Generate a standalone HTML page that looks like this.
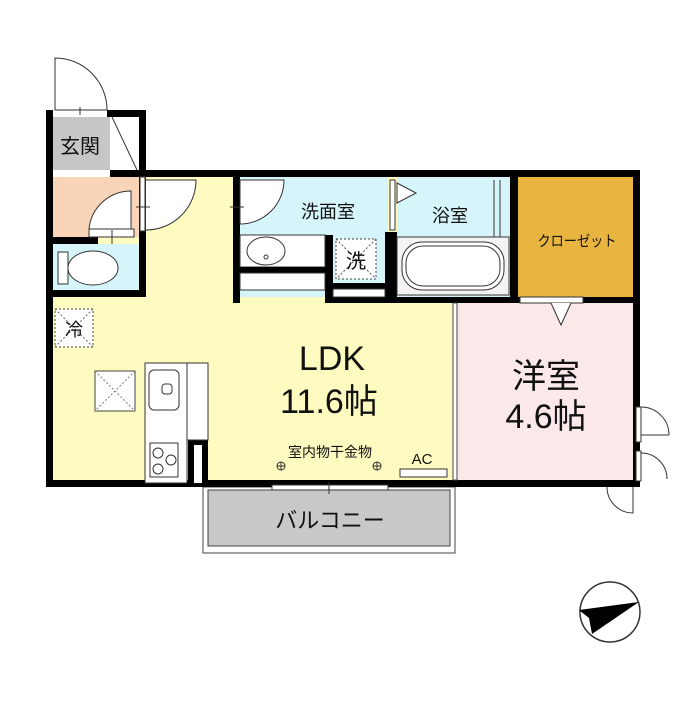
<!DOCTYPE html>
<html><head><meta charset="utf-8"><style>
body{margin:0;background:#fff;width:700px;height:700px;overflow:hidden}
svg text{font-family:"Liberation Sans","Noto Sans CJK JP",sans-serif;fill:#111}
</style></head><body>
<svg width="700" height="700" viewBox="0 0 700 700" xmlns="http://www.w3.org/2000/svg">
<!-- fills -->
<rect x="53" y="177" width="402" height="303" fill="#fdfbc0"/>
<rect x="53" y="117" width="57" height="53" fill="#c6c6c6"/>
<rect x="110" y="117" width="29" height="53" fill="#fff"/>
<rect x="53" y="177" width="86" height="60" fill="#f8d5b8"/>
<rect x="53" y="244" width="86" height="46" fill="#d6f5fb"/>
<rect x="240" y="177" width="148" height="120" fill="#d6f5fb"/>
<rect x="397" y="177" width="113" height="120" fill="#d6f5fb"/>
<rect x="518" y="177" width="115" height="120" fill="#e8b541"/>
<rect x="457" y="303" width="176" height="177" fill="#fbe9ea"/>
<!-- balcony -->
<rect x="203" y="487" width="252" height="66" fill="#fff" stroke="#444" stroke-width="1"/>
<rect x="208" y="490" width="242" height="56" fill="#c8c8c8" stroke="#444" stroke-width="1"/>
<!-- entrance door swing -->
<path d="M55 110 V58 A52 52 0 0 1 107 110 Z" fill="#fff" stroke="#333" stroke-width="1"/>
<line x1="80" y1="107" x2="80" y2="115" stroke="#333"/>
<line x1="112" y1="117" x2="137" y2="170" stroke="#333"/>
<!-- walls -->
<g fill="#000">
<rect x="46" y="110" width="7" height="377"/>
<rect x="46" y="110" width="7" height="7"/>
<rect x="107" y="110" width="39" height="7"/>
<rect x="139" y="110" width="7" height="67"/>
<rect x="53" y="170" width="587" height="7"/>
<rect x="633" y="170" width="7" height="317"/>
<rect x="46" y="480" width="594" height="7"/>
<rect x="53" y="237" width="45" height="7"/>
<rect x="139" y="177" width="7" height="120"/>
<rect x="53" y="290" width="93" height="7"/>
<rect x="233" y="177" width="7" height="126"/>
<rect x="325" y="235" width="8" height="68"/>
<rect x="333" y="283" width="57" height="6"/>
<rect x="385" y="232" width="12" height="71"/>
<rect x="510" y="177" width="8" height="126"/>
<rect x="333" y="297" width="307" height="6"/>
<rect x="633" y="297" width="7" height="6"/>
<rect x="188" y="440" width="20" height="45"/>
</g>
<!-- misc white wall bits -->
<rect x="53" y="170" width="57" height="7" fill="#fff"/>
<rect x="240" y="235" width="85" height="32" fill="#fff" stroke="#333" stroke-width="1"/>
<rect x="240" y="267" width="85" height="6" fill="#000"/>
<rect x="240" y="273" width="85" height="17" fill="#fff" stroke="#333" stroke-width="1"/>
<rect x="333" y="289" width="52" height="8" fill="#fff" stroke="#333" stroke-width="1"/>
<rect x="390" y="180" width="5" height="50" fill="#fff" stroke="#333" stroke-width="1"/>
<ellipse cx="266" cy="251" rx="19" ry="14" fill="#fff" stroke="#333"/>
<circle cx="266" cy="257" r="2" fill="#fff" stroke="#333"/>
<!-- washer box -->
<rect x="336" y="239" width="40" height="40" fill="#fff" stroke="#444" stroke-dasharray="2,2"/>
<path d="M336 239 L376 279 M376 239 L336 279" stroke="#555" stroke-dasharray="2,2"/>
<!-- bath -->
<rect x="397" y="237" width="112" height="58" fill="#f3f3f3" stroke="#333"/>
<rect x="402" y="242" width="102" height="48" rx="20" fill="#fff" stroke="#333"/>
<rect x="406" y="246" width="94" height="40" rx="17" fill="none" stroke="#333"/>
<path d="M494 180 V237 M500 180 V237" stroke="#333"/>
<path d="M397 183 L416 193 L397 203 Z" fill="#fff" stroke="#333"/>
<!-- closet door -->
<rect x="520" y="297" width="63" height="6" fill="#fff" stroke="#333"/>
<path d="M551 303 L561 325 L571 303" fill="#fff" stroke="#333"/>
<!-- partition LDK/洋室 -->
<rect x="453" y="303" width="4" height="177" fill="#fff" stroke="#444"/>
<!-- toilet room doors -->
<path d="M131 191 V229 H89 A42 42 0 0 1 131 191 Z" fill="#fff" stroke="#333"/>
<rect x="89" y="229" width="45" height="8" fill="#fff" stroke="#333"/>
<line x1="112" y1="230" x2="112" y2="244" stroke="#333"/>
<rect x="140" y="177" width="5" height="54" fill="#fff" stroke="#333"/>
<path d="M146 180 A50 50 0 0 1 146 230 Z" fill="#fff" stroke="#333"/>
<path d="M146 180 A50 50 0 0 1 196 180" fill="none"/>
<path d="M146 180 H196 A50 50 0 0 1 146 230" fill="#fff" stroke="#333"/>
<line x1="136" y1="207" x2="150" y2="207" stroke="#333"/>
<!-- washroom door -->
<path d="M240 180 H284 A44 44 0 0 1 240 224 Z" fill="#fff" stroke="#333"/>
<line x1="230" y1="207" x2="244" y2="207" stroke="#333"/>
<!-- toilet -->
<rect x="58" y="252" width="10" height="32" fill="#fff" stroke="#333"/>
<ellipse cx="93" cy="268" rx="25" ry="17" fill="#fff" stroke="#333"/>
<!-- fridge -->
<rect x="55" y="309" width="38" height="38" fill="#fff" stroke="#444" stroke-dasharray="2,2"/>
<path d="M55 309 L93 347 M93 309 L55 347" stroke="#666" stroke-dasharray="2,2"/>
<rect x="95" y="371" width="40" height="40" fill="#fff" stroke="#444"/>
<path d="M95 371 L135 411 M135 371 L95 411" stroke="#777" stroke-dasharray="2,2"/>
<!-- kitchen -->
<rect x="145" y="363" width="42" height="120" fill="#fff" stroke="#333"/>
<rect x="187" y="363" width="21" height="77" fill="#fff" stroke="#333"/>
<rect x="149" y="370" width="30" height="40" rx="5" fill="#fff" stroke="#333"/>
<rect x="162" y="384" width="10" height="10" rx="3" fill="#fff" stroke="#333"/>
<rect x="150" y="443" width="28" height="34" fill="#fff" stroke="#333"/>
<circle cx="158" cy="453" r="5" fill="none" stroke="#333"/><circle cx="171" cy="460" r="5" fill="none" stroke="#333"/><circle cx="158" cy="469" r="5" fill="none" stroke="#333"/>
<rect x="194" y="445" width="8" height="38" fill="#fff"/>
<!-- sliding window to balcony -->
<rect x="272" y="485" width="116" height="5" fill="#fff" stroke="#333"/>
<line x1="329" y1="482" x2="329" y2="494" stroke="#333"/>
<!-- AC -->
<rect x="400" y="469" width="47" height="8" fill="#fff" stroke="#333"/>
<!-- hooks -->
<g stroke="#333" fill="none"><circle cx="281" cy="466" r="4"/><path d="M277 466h8M281 462v8"/><circle cx="377" cy="466" r="4"/><path d="M373 466h8M377 462v8"/></g>
<!-- right side doors -->
<rect x="636" y="407" width="5" height="35" fill="#fff" stroke="#333"/>
<path d="M641 407 A28 28 0 0 1 669 435" fill="none" stroke="#333"/><path d="M641 435 H669" stroke="#333"/>
<rect x="636" y="451" width="5" height="30" fill="#fff" stroke="#333"/>
<path d="M641 453 A26 26 0 0 1 667 479" fill="none" stroke="#333"/>
<path d="M607 487 A26 26 0 0 0 633 513 V487" fill="none" stroke="#333"/>
<!-- compass -->
<circle cx="610" cy="612" r="30" fill="#fff" stroke="#333" stroke-width="1.5"/>
<polygon points="579,610 639,602 592,634 589,618" fill="#000"/>
<!-- labels -->
<text x="80" y="153" font-size="20" text-anchor="middle">玄関</text>
<text x="328" y="218" font-size="18" text-anchor="middle">洗面室</text>
<text x="356" y="268" font-size="20" text-anchor="middle">洗</text>
<text x="450" y="222" font-size="18" text-anchor="middle">浴室</text>
<text x="577" y="246" font-size="15" text-anchor="middle" transform="translate(577 0) scale(0.88 1) translate(-577 0)">クローゼット</text>
<text x="74" y="336" font-size="18" text-anchor="middle">冷</text>
<text x="332" y="370" font-size="34" text-anchor="middle">LDK</text>
<text x="329" y="413" font-size="34" text-anchor="middle">11.6帖</text>
<text x="546" y="388" font-size="34" text-anchor="middle">洋室</text>
<text x="546" y="428" font-size="34" text-anchor="middle">4.6帖</text>
<text x="330" y="457" font-size="14" text-anchor="middle">室内物干金物</text>
<text x="422" y="464" font-size="15" text-anchor="middle">AC</text>
<text x="330" y="528" font-size="22" text-anchor="middle">バルコニー</text>
</svg>
</body></html>
